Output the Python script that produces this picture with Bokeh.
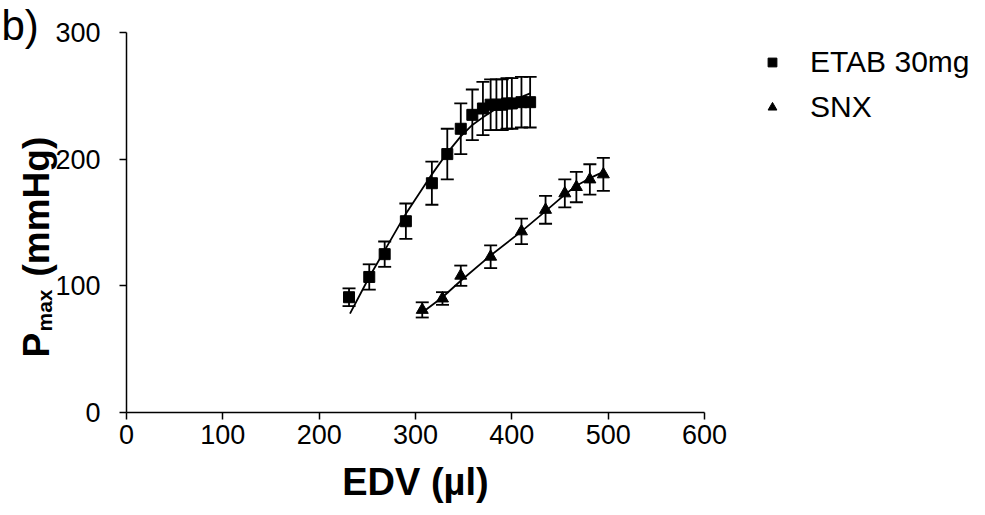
import math
from bokeh.plotting import figure
from bokeh.models import Range1d, Whisker, TeeHead, ColumnDataSource, Label, Legend, LegendItem, FixedTicker
from bokeh.embed import file_html
from bokeh.resources import INLINE

# ETAB 30mg (squares)
etab_x = [231, 252, 268, 290, 317, 333, 347, 359, 370, 378, 384, 390, 395, 400, 410, 419]
etab_y = [91, 107, 125, 151, 181, 204, 224, 235, 240, 243, 243, 243, 244, 244, 245, 245]
etab_err = [7, 10, 10, 14, 17, 20, 20, 20, 21, 20, 20, 20, 20, 20, 20, 20]
etab_fit_x = [232, 252, 268, 290, 317, 333, 347, 359, 370, 384, 400, 419]
etab_fit_y = [78, 107, 128, 157, 188, 205, 218, 227, 233, 240, 246, 252]

# SNX (triangles)
snx_x = [307, 328, 347, 378, 410, 435, 455, 467, 481, 495]
snx_y = [81, 90, 108, 123, 143, 160, 173, 178, 184, 188]
snx_err = [6, 5, 8, 9, 10, 11, 11, 12, 12, 13]
snx_fit_x = [307, 328, 347, 378, 410, 435, 455, 467, 481, 495]
snx_fit_y = [79, 91, 104, 124, 143, 159, 172, 179, 185, 190]

x_ticks = [0, 100, 200, 300, 400, 500, 600]
y_ticks = [0, 100, 200, 300]

FONT = "Liberation Sans"

# pixel geometry of the axes box inside the 985x515 canvas
W, H = 985, 515
L, R, T, B = 126, 704, 32, 412
sx = (R - L) / 600.0
sy = (B - T) / 300.0

def dx(px):
    return (px - L) / sx

def dy(py):
    return (B - py) / sy

p = figure(width=W, height=H, output_backend="svg", toolbar_location=None,
           x_range=Range1d(dx(0), dx(W)), y_range=Range1d(dy(H), dy(0)),
           min_border=0)
p.outline_line_color = None
p.xgrid.visible = False
p.ygrid.visible = False
p.background_fill_color = "white"
p.border_fill_color = "white"

p.xaxis.fixed_location = 0
p.yaxis.fixed_location = 0
p.xaxis.bounds = (0, 600)
p.yaxis.bounds = (0, 300)

for ax, ticks in ((p.xaxis, x_ticks), (p.yaxis, y_ticks)):
    ax.ticker = FixedTicker(ticks=ticks)
    ax.minor_tick_line_color = None
    ax.major_tick_in = 0
    ax.major_tick_out = 7
    ax.axis_line_width = 1.5
    ax.major_tick_line_width = 1.5
    ax.axis_line_color = "black"
    ax.major_tick_line_color = "black"
    ax.major_label_text_font = FONT
    ax.major_label_text_font_size = "27px"
    ax.major_label_text_color = "black"
p.xaxis.major_label_standoff = 5
p.yaxis.major_label_standoff = 19
p.xaxis.axis_label = "EDV (µl)"
p.xaxis.axis_label_text_font = FONT
p.xaxis.axis_label_text_font_size = "38px"
p.xaxis.axis_label_text_font_style = "bold"
p.xaxis.axis_label_text_color = "black"
p.xaxis.axis_label_standoff = 14

src_e = ColumnDataSource(dict(x=etab_x, y=etab_y,
                              lo=[a - b for a, b in zip(etab_y, etab_err)],
                              hi=[a + b for a, b in zip(etab_y, etab_err)]))
src_s = ColumnDataSource(dict(x=snx_x, y=snx_y,
                              lo=[a - b for a, b in zip(snx_y, snx_err)],
                              hi=[a + b for a, b in zip(snx_y, snx_err)]))

for src in (src_e, src_s):
    w = Whisker(source=src, base="x", lower="lo", upper="hi", line_color="black", line_width=1.8,
                upper_head=TeeHead(size=13, line_width=1.8, line_color="black"),
                lower_head=TeeHead(size=13, line_width=1.8, line_color="black"))
    p.add_layout(w)

p.line(etab_fit_x, etab_fit_y, line_color="black", line_width=1.8)
p.line(snx_fit_x, snx_fit_y, line_color="black", line_width=1.8)

r_e = p.scatter("x", "y", source=src_e, marker="square", size=11, fill_color="black", line_color="black")
r_s = p.scatter("x", "y", source=src_s, marker="triangle", size=12, fill_color="black", line_color="black")

legend = Legend(items=[LegendItem(label="ETAB 30mg", renderers=[r_e]),
                       LegendItem(label="SNX", renderers=[r_s])],
                location=(761, H - 124), border_line_color=None, background_fill_alpha=0,
                label_text_font=FONT, label_text_font_size="30px", label_text_color="black",
                glyph_width=22, glyph_height=22, label_standoff=27, spacing=11, padding=0, margin=0)
p.add_layout(legend, "center")

# y axis label built from parts (subscript)
p.add_layout(Label(x=dx(36), y=dy(357), text="P", angle=math.pi / 2, text_font=FONT, text_font_size="37px",
                   text_font_style="bold", text_color="black", text_baseline="middle", text_align="left"))
p.add_layout(Label(x=dx(44), y=dy(331), text="max", angle=math.pi / 2, text_font=FONT, text_font_size="21px",
                   text_font_style="bold", text_color="black", text_baseline="middle", text_align="left"))
p.add_layout(Label(x=dx(36), y=dy(276), text="(mmHg)", angle=math.pi / 2, text_font=FONT, text_font_size="37px",
                   text_font_style="bold", text_color="black", text_baseline="middle", text_align="left"))

p.add_layout(Label(x=dx(1), y=dy(1), text="b)", text_font=FONT, text_font_size="42px",
                   text_color="black", text_baseline="top", text_align="left"))

open("out.html", "w").write(file_html(p, INLINE))
